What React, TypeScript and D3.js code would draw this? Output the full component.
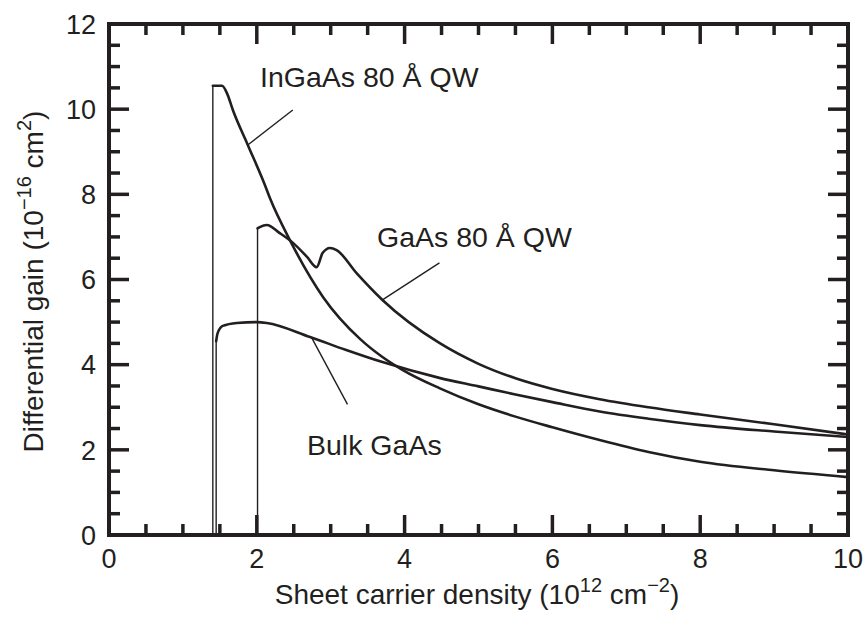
import React from "react";
import * as d3 from "d3";

// Axis ticks
const xMajorTicks = [0, 2, 4, 6, 8, 10];
const yMajorTicks = [0, 2, 4, 6, 8, 10, 12];
const minorStep = 0.5;

// InGaAs 80 Å QW: differential gain vs sheet carrier density
const ingaasDensity = [1.405, 1.53, 1.6, 1.676, 1.878, 2.1, 2.18, 2.446, 2.9, 3.4, 3.7, 3.97, 4.47, 5.0, 5.5, 6.0, 6.64, 7.3, 8.0, 9.0, 10.0];
const ingaasGain = [10.55, 10.55, 10.36, 9.98, 9.16, 8.26, 7.9, 6.93, 5.58, 4.6, 4.18, 3.88, 3.45, 3.07, 2.78, 2.53, 2.23, 1.95, 1.72, 1.52, 1.36];

// GaAs 80 Å QW
const gaasQwDensity = [2.01, 2.04, 2.135, 2.31, 2.49, 2.68, 2.81, 2.89, 2.99, 3.08, 3.35, 3.7, 4.47, 5.0, 5.5, 6.0, 6.64, 7.3, 8.0, 9.0, 10.0];
const gaasQwGain = [7.2, 7.23, 7.28, 7.09, 6.86, 6.53, 6.29, 6.62, 6.74, 6.69, 6.15, 5.52, 4.51, 4.02, 3.68, 3.43, 3.19, 3.0, 2.83, 2.6, 2.36];

// Bulk GaAs
const bulkDensity = [1.45, 1.47, 1.54, 1.73, 2.0, 2.135, 2.72, 3.2, 3.7, 4.47, 5.0, 5.5, 6.0, 6.64, 7.3, 8.0, 9.0, 10.0];
const bulkGain = [4.55, 4.74, 4.91, 4.98, 5.0, 4.98, 4.65, 4.35, 4.06, 3.69, 3.49, 3.3, 3.12, 2.9, 2.73, 2.58, 2.43, 2.3];

const seriesNames = ["InGaAs 80 Å QW", "GaAs 80 Å QW", "Bulk GaAs"];

const W = 868;
const H = 617;
const left = 109;
const right = 848;
const top = 24;
const bottom = 535;

const ink = "#231f20";
const font = "'Liberation Sans', Arial, Helvetica, sans-serif";

export default function App() {
  const x = d3.scaleLinear().domain([0, 10]).range([left, right]);
  const y = d3.scaleLinear().domain([0, 12]).range([bottom, top]);

  const series = [
    { name: seriesNames[0], xs: ingaasDensity, ys: ingaasGain },
    { name: seriesNames[1], xs: gaasQwDensity, ys: gaasQwGain },
    { name: seriesNames[2], xs: bulkDensity, ys: bulkGain },
  ];

  const line = d3
    .line<[number, number]>()
    .x((d) => x(d[0]))
    .y((d) => y(d[1]))
    .curve(d3.curveMonotoneX);

  const xMinor = d3.range(0, 10 + 1e-9, minorStep).filter((v) => !xMajorTicks.includes(v));
  const yMinor = d3.range(0, 12 + 1e-9, minorStep).filter((v) => !yMajorTicks.includes(v));

  const majorLen = 20;
  const minorLen = 11;
  const tickW = 3.5;

  // Labels with leader lines: anchor on the curve (data units), pixel offset to the leader's end
  const labels = [
    { text: seriesNames[0], ax: 1.878, ay: 9.16, dx: 45, dy: -35, tx: 260, ty: 87 },
    { text: seriesNames[1], ax: 3.7, ay: 5.52, dx: 57, dy: -37, tx: 377, ty: 247 },
    { text: seriesNames[2], ax: 2.74, ay: 4.64, dx: 36, dy: 67, tx: 307, ty: 455 },
  ];

  return (
    <svg width={W} height={H} style={{ position: "absolute", left: 0, top: 0, background: "#fff" }}>
      <rect width={W} height={H} fill="#fff" />

      {/* curves: thin vertical onset, then the gain curve */}
      {series.map((s) => {
        const pts: [number, number][] = s.xs.map((v, i) => [v, s.ys[i]]);
        return (
          <g key={s.name}>
            <line
              x1={x(s.xs[0])}
              x2={x(s.xs[0])}
              y1={y(0)}
              y2={y(s.ys[0])}
              stroke={ink}
              strokeWidth={1.4}
            />
            <path d={line(pts) || ""} fill="none" stroke={ink} strokeWidth={2.6} strokeLinejoin="round" strokeLinecap="round" />
          </g>
        );
      })}

      {/* leader lines and series labels */}
      {labels.map((l) => (
        <g key={l.text}>
          <line x1={x(l.ax)} y1={y(l.ay)} x2={x(l.ax) + l.dx} y2={y(l.ay) + l.dy} stroke={ink} strokeWidth={1.4} />
          <text x={l.tx} y={l.ty} fontFamily={font} fontSize={28.5} fill={ink}>
            {l.text}
          </text>
        </g>
      ))}

      {/* inward ticks on all four sides */}
      <g stroke={ink} strokeWidth={tickW}>
        {xMajorTicks.concat(xMinor).map((v) => {
          const len = xMajorTicks.includes(v) ? majorLen : minorLen;
          return (
            <g key={"xt" + v}>
              <line x1={x(v)} x2={x(v)} y1={bottom} y2={bottom - len} />
              <line x1={x(v)} x2={x(v)} y1={top} y2={top + len} />
            </g>
          );
        })}
        {yMajorTicks.concat(yMinor).map((v) => {
          const len = yMajorTicks.includes(v) ? majorLen : minorLen;
          return (
            <g key={"yt" + v}>
              <line x1={left} x2={left + len} y1={y(v)} y2={y(v)} />
              <line x1={right} x2={right - len} y1={y(v)} y2={y(v)} />
            </g>
          );
        })}
      </g>

      {/* frame */}
      <rect x={left} y={top} width={right - left} height={bottom - top} fill="none" stroke={ink} strokeWidth={4} />

      {/* tick labels */}
      <g fontFamily={font} fontSize={27} fill={ink}>
        {xMajorTicks.map((v) => (
          <text key={"xl" + v} x={x(v)} y={568} textAnchor="middle">
            {v}
          </text>
        ))}
        {yMajorTicks.map((v) => (
          <text key={"yl" + v} x={96} y={y(v)} dy="0.36em" textAnchor="end">
            {v}
          </text>
        ))}
      </g>

      {/* axis titles */}
      <text x={477} y={604} textAnchor="middle" fontFamily={font} fontSize={28} fill={ink}>
        Sheet carrier density (10
        <tspan fontSize={20} dy={-12}>12</tspan>
        <tspan dy={12}> cm</tspan>
        <tspan fontSize={20} dy={-12}>−2</tspan>
        <tspan dy={12}>)</tspan>
      </text>
      <text
        transform={`translate(43, ${(top + bottom) / 2 + 2}) rotate(-90)`}
        textAnchor="middle"
        fontFamily={font}
        fontSize={28}
        fill={ink}
      >
        Differential gain (10
        <tspan fontSize={20} dy={-12}>−16</tspan>
        <tspan dy={12}> cm</tspan>
        <tspan fontSize={20} dy={-12}>2</tspan>
        <tspan dy={12}>)</tspan>
      </text>
    </svg>
  );
}
